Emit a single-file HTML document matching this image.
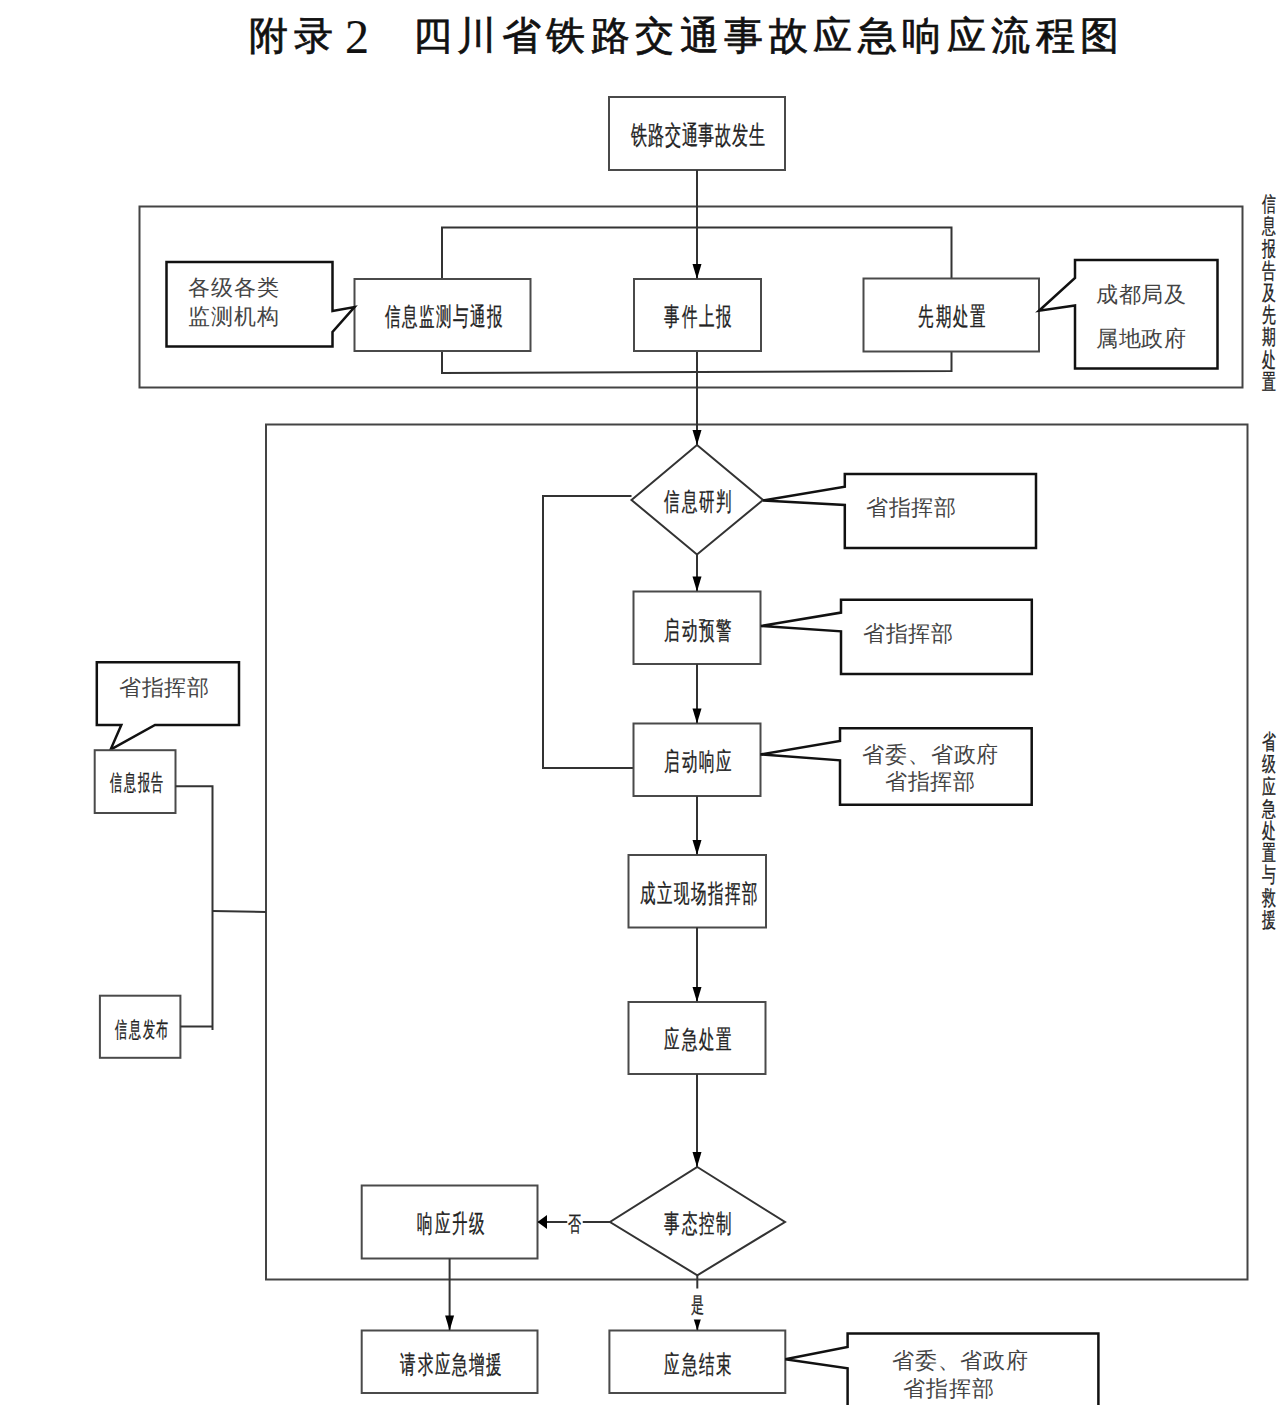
<!DOCTYPE html>
<html><head><meta charset="utf-8">
<style>
html,body{margin:0;padding:0;background:#fff;}
body{width:1283px;height:1405px;position:relative;overflow:hidden;font-family:"Liberation Sans",sans-serif;}
svg{position:absolute;left:0;top:0;}
.t{position:absolute;white-space:nowrap;line-height:1;color:#222;}
.b{-webkit-text-stroke:0.35px #222;}
.s{font-family:"Liberation Serif",serif;color:#444;}
.title{position:absolute;left:251px;top:16px;font-size:39px;line-height:1;color:#111;white-space:nowrap;letter-spacing:5.5px;-webkit-text-stroke:0.7px #111;}
</style></head><body>
<svg width="1283" height="1405" viewBox="0 0 1283 1405">
<rect x="266" y="424.5" width="981.5" height="855" fill="none" stroke="#444" stroke-width="2"/>
<rect x="139.5" y="206.5" width="1103" height="181" fill="none" stroke="#444" stroke-width="2"/>
<rect x="609" y="97" width="176" height="73" fill="#fff" stroke="#4a4a4a" stroke-width="2"/>
<path d="M697,170 L697,279" fill="none" stroke="#333" stroke-width="2" stroke-linejoin="miter"/>
<path d="M442,279 L442,227.5 L951.5,227.5 L951.5,279" fill="none" stroke="#333" stroke-width="2" stroke-linejoin="miter"/>
<path d="M442,351 L442,373 L951.5,371 L951.5,351" fill="none" stroke="#333" stroke-width="2" stroke-linejoin="miter"/>
<path d="M697,351 L697,445" fill="none" stroke="#333" stroke-width="2" stroke-linejoin="miter"/>
<rect x="354.5" y="279" width="176.0" height="72" fill="#fff" stroke="#4a4a4a" stroke-width="2"/>
<rect x="634" y="279" width="127" height="72" fill="#fff" stroke="#4a4a4a" stroke-width="2"/>
<rect x="863.5" y="278.5" width="175.5" height="73.0" fill="#fff" stroke="#4a4a4a" stroke-width="2"/>
<path d="M166.5,262 L332.5,262 L332.5,311 L354.5,307 L332.5,332 L332.5,346.5 L166.5,346.5 Z" fill="#fff" stroke="#111" stroke-width="2.5" stroke-linejoin="miter"/>
<path d="M1075,260 L1217.5,260 L1217.5,368.5 L1075,368.5 L1075,305.5 L1039,310.7 L1075,278 Z" fill="#fff" stroke="#111" stroke-width="2.5" stroke-linejoin="miter"/>
<path d="M697,445 L763,500 L697,554.5 L631.5,500 Z" fill="#fff" stroke="#333" stroke-width="2" stroke-linejoin="miter"/>
<path d="M631.5,496 L543,496 L543,768 L634,768" fill="none" stroke="#333" stroke-width="2" stroke-linejoin="miter"/>
<path d="M697,554.5 L697,591.5" fill="none" stroke="#333" stroke-width="2" stroke-linejoin="miter"/>
<rect x="633.5" y="591.5" width="127.0" height="72.5" fill="#fff" stroke="#4a4a4a" stroke-width="2"/>
<path d="M697,664 L697,723.5" fill="none" stroke="#333" stroke-width="2" stroke-linejoin="miter"/>
<rect x="633.5" y="723.5" width="127.0" height="72.5" fill="#fff" stroke="#4a4a4a" stroke-width="2"/>
<path d="M697,796 L697,855" fill="none" stroke="#333" stroke-width="2" stroke-linejoin="miter"/>
<rect x="628.5" y="855" width="137.5" height="72.5" fill="#fff" stroke="#4a4a4a" stroke-width="2"/>
<path d="M697,927.5 L697,1002" fill="none" stroke="#333" stroke-width="2" stroke-linejoin="miter"/>
<rect x="628.5" y="1002" width="137.0" height="72" fill="#fff" stroke="#4a4a4a" stroke-width="2"/>
<path d="M697,1074 L697,1167" fill="none" stroke="#333" stroke-width="2" stroke-linejoin="miter"/>
<path d="M697.3,1167 L785,1222 L697.3,1275.3 L610,1222 Z" fill="#fff" stroke="#333" stroke-width="2" stroke-linejoin="miter"/>
<path d="M610,1222 L537.5,1222" fill="none" stroke="#333" stroke-width="2" stroke-linejoin="miter"/>
<rect x="361.7" y="1185.5" width="175.8" height="73.0" fill="#fff" stroke="#4a4a4a" stroke-width="2"/>
<path d="M449.6,1258.5 L449.6,1330.5" fill="none" stroke="#333" stroke-width="2" stroke-linejoin="miter"/>
<rect x="361.7" y="1330.5" width="175.8" height="62.5" fill="#fff" stroke="#4a4a4a" stroke-width="2"/>
<path d="M697.3,1275.3 L697.3,1330.5" fill="none" stroke="#333" stroke-width="2" stroke-linejoin="miter"/>
<rect x="609.4" y="1330.5" width="175.89999999999998" height="62.5" fill="#fff" stroke="#4a4a4a" stroke-width="2"/>
<path d="M847.6,1333.6 L1098.4,1333.6 L1098.4,1420 L847.6,1420 L847.6,1368.3 L785.3,1359.3 L847.6,1347 Z" fill="#fff" stroke="#111" stroke-width="2.5" stroke-linejoin="miter"/>
<path d="M844.8,474 L1036,474 L1036,548 L844.8,548 L844.8,505 L763,500.4 L844.8,486.7 Z" fill="#fff" stroke="#111" stroke-width="2.5" stroke-linejoin="miter"/>
<path d="M841,599.7 L1031.8,599.7 L1031.8,674 L841,674 L841,631.3 L761,626 L841,612.6 Z" fill="#fff" stroke="#111" stroke-width="2.5" stroke-linejoin="miter"/>
<path d="M840,728.2 L1031.7,728.2 L1031.7,804.7 L840,804.7 L840,760.3 L760.5,754.4 L840,741 Z" fill="#fff" stroke="#111" stroke-width="2.5" stroke-linejoin="miter"/>
<path d="M96.8,662.3 L239,662.3 L239,725 L155,725 L110.6,749.6 L121.3,725 L96.8,725 Z" fill="#fff" stroke="#111" stroke-width="2.5" stroke-linejoin="miter"/>
<rect x="94.7" y="750.2" width="80.8" height="62.799999999999955" fill="#fff" stroke="#4a4a4a" stroke-width="2"/>
<rect x="99.9" y="995.7" width="80.5" height="62.09999999999991" fill="#fff" stroke="#4a4a4a" stroke-width="2"/>
<path d="M175.5,786.3 L212.5,786.3 L212.5,1030" fill="none" stroke="#333" stroke-width="2" stroke-linejoin="miter"/>
<path d="M180.4,1026.6 L212.5,1026.6" fill="none" stroke="#333" stroke-width="2" stroke-linejoin="miter"/>
<path d="M212.5,911 L266,912" fill="none" stroke="#333" stroke-width="2" stroke-linejoin="miter"/>
<path d="M692.5,264 L701.5,264 L697,279 Z" fill="#000"/>
<path d="M692.5,430 L701.5,430 L697,445 Z" fill="#000"/>
<path d="M692.5,576.5 L701.5,576.5 L697,591.5 Z" fill="#000"/>
<path d="M692.5,708.5 L701.5,708.5 L697,723.5 Z" fill="#000"/>
<path d="M692.5,840 L701.5,840 L697,855 Z" fill="#000"/>
<path d="M692.5,987 L701.5,987 L697,1002 Z" fill="#000"/>
<path d="M692.5,1152 L701.5,1152 L697,1167 Z" fill="#000"/>
<path d="M547.0,1215 L547.0,1229 L537.5,1222 Z" fill="#000"/>
<path d="M445.1,1315.5 L454.1,1315.5 L449.6,1330.5 Z" fill="#000"/>
<path d="M693.5,1318.5 L701.0999999999999,1318.5 L697.3,1330.5 Z" fill="#000"/>
</svg>
<div class="title" style="left:249px">附录</div><div class="title" style="left:345px;top:13px;font-family:'Liberation Serif',serif;font-size:48px;letter-spacing:0;font-weight:normal;-webkit-text-stroke:0.2px #111">2</div><div class="title" style="left:412.5px">四川省铁路交通事故应急响应流程图</div>
<div class="t b" style="left:698px;top:135px;font-size:26px;transform:translate(-50%,-50%) scaleX(0.62);letter-spacing:1.1px;padding-left:1.1px">铁路交通事故发生</div>
<div class="t b" style="left:444px;top:316px;font-size:25px;transform:translate(-50%,-50%) scaleX(0.62);letter-spacing:2.42px;padding-left:2.42px">信息监测与通报</div>
<div class="t b" style="left:698px;top:316px;font-size:25px;transform:translate(-50%,-50%) scaleX(0.62);letter-spacing:2.9px;padding-left:2.9px">事件上报</div>
<div class="t b" style="left:952px;top:316px;font-size:25px;transform:translate(-50%,-50%) scaleX(0.62);letter-spacing:2.9px;padding-left:2.9px">先期处置</div>
<div class="t s" style="left:233.5px;top:288px;font-size:22px;transform:translate(-50%,-50%) scaleX(1.0);letter-spacing:0.8px;padding-left:0.8px">各级各类</div>
<div class="t s" style="left:233.5px;top:316.5px;font-size:22px;transform:translate(-50%,-50%) scaleX(1.0);letter-spacing:0.8px;padding-left:0.8px">监测机构</div>
<div class="t s" style="left:1141px;top:295px;font-size:22px;transform:translate(-50%,-50%) scaleX(1.0);letter-spacing:0.8px;padding-left:0.8px">成都局及</div>
<div class="t s" style="left:1141px;top:338.5px;font-size:22px;transform:translate(-50%,-50%) scaleX(1.0);letter-spacing:0.8px;padding-left:0.8px">属地政府</div>
<div class="t b" style="left:1268.5px;top:203.1px;font-size:21px;transform:translate(-50%,-50%) scaleX(0.66)">信</div>
<div class="t b" style="left:1268.5px;top:225.29999999999998px;font-size:21px;transform:translate(-50%,-50%) scaleX(0.66)">息</div>
<div class="t b" style="left:1268.5px;top:247.5px;font-size:21px;transform:translate(-50%,-50%) scaleX(0.66)">报</div>
<div class="t b" style="left:1268.5px;top:269.70000000000005px;font-size:21px;transform:translate(-50%,-50%) scaleX(0.66)">告</div>
<div class="t b" style="left:1268.5px;top:291.90000000000003px;font-size:21px;transform:translate(-50%,-50%) scaleX(0.66)">及</div>
<div class="t b" style="left:1268.5px;top:314.1px;font-size:21px;transform:translate(-50%,-50%) scaleX(0.66)">先</div>
<div class="t b" style="left:1268.5px;top:336.3px;font-size:21px;transform:translate(-50%,-50%) scaleX(0.66)">期</div>
<div class="t b" style="left:1268.5px;top:358.5px;font-size:21px;transform:translate(-50%,-50%) scaleX(0.66)">处</div>
<div class="t b" style="left:1268.5px;top:380.70000000000005px;font-size:21px;transform:translate(-50%,-50%) scaleX(0.66)">置</div>
<div class="t b" style="left:698px;top:501px;font-size:25px;transform:translate(-50%,-50%) scaleX(0.62);letter-spacing:2.9px;padding-left:2.9px">信息研判</div>
<div class="t b" style="left:698px;top:629.5px;font-size:25px;transform:translate(-50%,-50%) scaleX(0.62);letter-spacing:2.9px;padding-left:2.9px">启动预警</div>
<div class="t b" style="left:698px;top:761px;font-size:25px;transform:translate(-50%,-50%) scaleX(0.62);letter-spacing:2.9px;padding-left:2.9px">启动响应</div>
<div class="t b" style="left:698.5px;top:893px;font-size:25px;transform:translate(-50%,-50%) scaleX(0.62);letter-spacing:2.42px;padding-left:2.42px">成立现场指挥部</div>
<div class="t b" style="left:698px;top:1039px;font-size:25px;transform:translate(-50%,-50%) scaleX(0.62);letter-spacing:2.9px;padding-left:2.9px">应急处置</div>
<div class="t b" style="left:698px;top:1223px;font-size:25px;transform:translate(-50%,-50%) scaleX(0.62);letter-spacing:2.9px;padding-left:2.9px">事态控制</div>
<div class="t b" style="left:574.5px;top:1222.5px;font-size:21px;transform:translate(-50%,-50%) scaleX(0.62);background:#fff;padding:0 2px">否</div>
<div class="t b" style="left:451px;top:1223px;font-size:25px;transform:translate(-50%,-50%) scaleX(0.62);letter-spacing:2.9px;padding-left:2.9px">响应升级</div>
<div class="t b" style="left:451px;top:1363.5px;font-size:25px;transform:translate(-50%,-50%) scaleX(0.62);letter-spacing:2.58px;padding-left:2.58px">请求应急增援</div>
<div class="t b" style="left:698px;top:1303.5px;font-size:21px;transform:translate(-50%,-50%) scaleX(0.62);background:#fff;padding:5px 0">是</div>
<div class="t b" style="left:698px;top:1363.5px;font-size:25px;transform:translate(-50%,-50%) scaleX(0.62);letter-spacing:2.9px;padding-left:2.9px">应急结束</div>
<div class="t s" style="left:960px;top:1361px;font-size:22px;transform:translate(-50%,-50%) scaleX(1.0);letter-spacing:0.8px;padding-left:0.8px">省委、省政府</div>
<div class="t s" style="left:948.5px;top:1389px;font-size:22px;transform:translate(-50%,-50%) scaleX(1.0);letter-spacing:0.8px;padding-left:0.8px">省指挥部</div>
<div class="t s" style="left:911px;top:508px;font-size:22px;transform:translate(-50%,-50%) scaleX(1.0);letter-spacing:0.8px;padding-left:0.8px">省指挥部</div>
<div class="t s" style="left:908px;top:633.6px;font-size:22px;transform:translate(-50%,-50%) scaleX(1.0);letter-spacing:0.8px;padding-left:0.8px">省指挥部</div>
<div class="t s" style="left:930.5px;top:754.5px;font-size:22px;transform:translate(-50%,-50%) scaleX(1.0);letter-spacing:0.8px;padding-left:0.8px">省委、省政府</div>
<div class="t s" style="left:930px;top:782px;font-size:22px;transform:translate(-50%,-50%) scaleX(1.0);letter-spacing:0.8px;padding-left:0.8px">省指挥部</div>
<div class="t s" style="left:164px;top:688px;font-size:22px;transform:translate(-50%,-50%) scaleX(1.0);letter-spacing:0.8px;padding-left:0.8px">省指挥部</div>
<div class="t b" style="left:137px;top:784px;font-size:21.5px;transform:translate(-50%,-50%) scaleX(0.55);letter-spacing:2.8px;padding-left:2.8px">信息报告</div>
<div class="t b" style="left:141.7px;top:1031px;font-size:21.5px;transform:translate(-50%,-50%) scaleX(0.55);letter-spacing:2.8px;padding-left:2.8px">信息发布</div>
<div class="t b" style="left:1268.5px;top:741.1px;font-size:21px;transform:translate(-50%,-50%) scaleX(0.66)">省</div>
<div class="t b" style="left:1268.5px;top:763.3000000000001px;font-size:21px;transform:translate(-50%,-50%) scaleX(0.66)">级</div>
<div class="t b" style="left:1268.5px;top:785.5px;font-size:21px;transform:translate(-50%,-50%) scaleX(0.66)">应</div>
<div class="t b" style="left:1268.5px;top:807.7px;font-size:21px;transform:translate(-50%,-50%) scaleX(0.66)">急</div>
<div class="t b" style="left:1268.5px;top:829.9px;font-size:21px;transform:translate(-50%,-50%) scaleX(0.66)">处</div>
<div class="t b" style="left:1268.5px;top:852.1px;font-size:21px;transform:translate(-50%,-50%) scaleX(0.66)">置</div>
<div class="t b" style="left:1268.5px;top:874.3000000000001px;font-size:21px;transform:translate(-50%,-50%) scaleX(0.66)">与</div>
<div class="t b" style="left:1268.5px;top:896.5px;font-size:21px;transform:translate(-50%,-50%) scaleX(0.66)">救</div>
<div class="t b" style="left:1268.5px;top:918.7px;font-size:21px;transform:translate(-50%,-50%) scaleX(0.66)">援</div>
</body></html>
